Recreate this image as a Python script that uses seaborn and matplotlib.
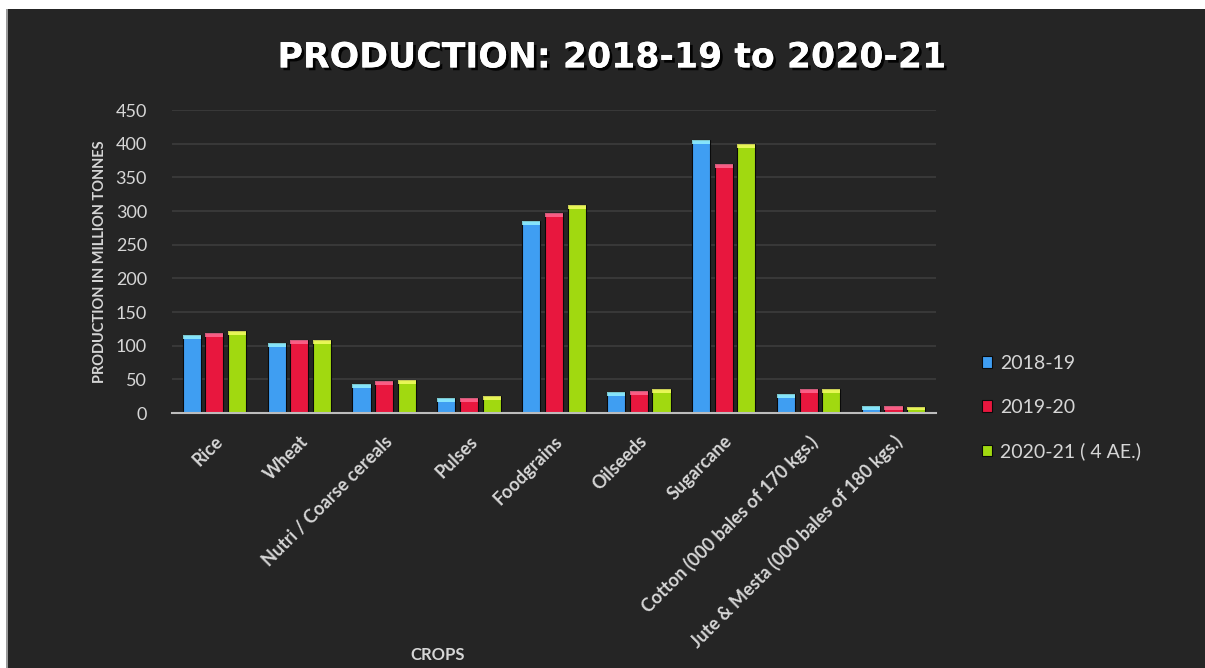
import matplotlib
matplotlib.use("Agg")
import matplotlib.pyplot as plt
import matplotlib.patheffects as pe
from matplotlib.patches import Rectangle
import seaborn as sns
import pandas as pd

crops = ["Rice", "Wheat", "Nutri / Coarse cereals", "Pulses", "Foodgrains",
         "Oilseeds", "Sugarcane", "Cotton (000 bales of 170 kgs.)",
         "Jute & Mesta (000 bales of 180 kgs.)"]
seasons = ["2018-19", "2019-20", "2020-21 ( 4 AE.)"]
prod_2018_19 = [116.5, 103.6, 43.1, 22.1, 285.2, 31.5, 405.4, 28.0, 9.8]
prod_2019_20 = [118.9, 107.9, 47.8, 23.0, 297.5, 33.2, 370.5, 36.1, 9.9]
prod_2020_21 = [121.5, 108.8, 49.7, 25.6, 308.7, 36.1, 399.3, 35.4, 9.6]
y_ticks = [0, 50, 100, 150, 200, 250, 300, 350, 400, 450]

colors = ["#3f9ef2", "#e8173e", "#a1d910"]
bg = "#252525"
txt = "#d6d6d6"

df = pd.DataFrame({
    "crop": crops * 3,
    "season": [seasons[0]] * 9 + [seasons[1]] * 9 + [seasons[2]] * 9,
    "value": prod_2018_19 + prod_2019_20 + prod_2020_21,
})

sns.set_theme(style="dark")
plt.rcParams["font.family"] = ["Lato", "DejaVu Sans"]

fig = plt.figure(figsize=(12.05, 6.68), dpi=100, facecolor="white")
# dark slide panel with a thin white margin on the top and left
fig.patches.append(Rectangle((8 / 1205, 0), 1, 1 - 9 / 668, transform=fig.transFigure,
                             facecolor=bg, edgecolor="none", zorder=-10))
fig.patches.append(Rectangle((6 / 1205, 0), 2 / 1205, 1 - 9 / 668, transform=fig.transFigure,
                             facecolor="#9a9a9a", edgecolor="none", zorder=-9))

ax = fig.add_axes([0.1427, 0.3817, 0.634, 0.4536])
ax.set_facecolor(bg)

sns.barplot(data=df, x="crop", y="value", hue="season", palette=colors,
            width=0.8, gap=0.2, ax=ax, saturation=1, legend=True,
            edgecolor="#0a0a0a", linewidth=0.8)

# glossy cap on each bar
for p in ax.patches:
    h = p.get_height()
    if h <= 0:
        continue
    fc = p.get_facecolor()
    light = tuple(min(1, c + 0.35) for c in fc[:3])
    cap = min(6.0, h * 0.5)
    ax.add_patch(Rectangle((p.get_x(), h - cap), p.get_width(), cap,
                           facecolor=light, edgecolor="none", alpha=0.8, zorder=3))

ax.set_ylim(0, 450)
ax.set_xlim(-0.5, len(crops) - 0.5)
ax.set_yticks(y_ticks)
ax.yaxis.grid(True, color="#3c3c3c", linewidth=1.2)
ax.xaxis.grid(False)
ax.set_axisbelow(True)
for s in ["top", "right", "left"]:
    ax.spines[s].set_visible(False)
ax.spines["bottom"].set_color("#bdbdbd")
ax.spines["bottom"].set_linewidth(1.5)

ax.tick_params(axis="y", colors=txt, labelsize=13, length=0, pad=18)
ax.tick_params(axis="x", colors=txt, length=0, pad=14)
ax.set_xticks(range(len(crops)))
ax.set_xticklabels(crops, rotation=45, ha="right", rotation_mode="anchor",
                   fontsize=13, fontweight="bold", color=txt)
ax.set_xlabel("")
ax.set_ylabel("PRODUCTION IN MILLION TONNES", fontsize=10.5, fontweight="bold",
              color=txt, labelpad=6)

fig.text(0.363, 0.02, "CROPS", fontsize=12, fontweight="bold", color=txt,
         ha="center", va="center")

fig.text(0.508, 0.914, "PRODUCTION: 2018-19 to 2020-21", fontsize=25,
         fontweight="bold", family="DejaVu Sans", color="white",
         ha="center", va="center",
         path_effects=[pe.withSimplePatchShadow(offset=(2, -2), shadow_rgbFace="black", alpha=0.9),
                       pe.Normal()])

handles, labels = ax.get_legend_handles_labels()
leg = ax.legend(handles, labels, loc="center left", bbox_to_anchor=(0.800, 0.390),
                bbox_transform=fig.transFigure, frameon=False, fontsize=14,
                handlelength=0.55, handleheight=0.55, handletextpad=0.4,
                labelspacing=1.38, labelcolor=txt)

fig.savefig("out.png", dpi=100, facecolor="white")
